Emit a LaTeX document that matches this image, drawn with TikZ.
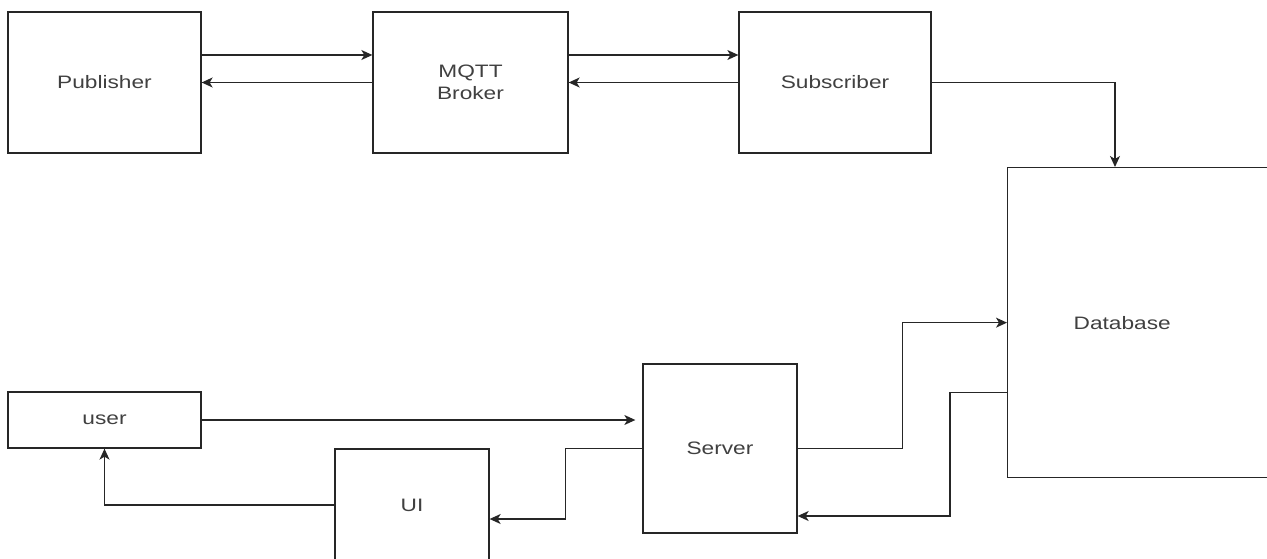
\documentclass[tikz,border=0pt]{standalone}
\usepackage{fontspec}
\setmainfont{Liberation Sans}[FakeStretch=1.26]
\usepackage{xcolor}
\usepackage{tikz}
\usetikzlibrary{arrows.meta}
\tikzset{
    every node/.style={font=\fontsize{18}{21.6}\selectfont, text=black!75},
    box/.style={draw=black!85, line width=1.3pt, rectangle, align=center, inner sep=0pt},
    arr/.style={draw=black!85, line width=1.3pt, -{Stealth[length=11pt, width=10pt, inset=3pt]}}
}
\begin{document}
\begin{tikzpicture}[x=1pt, y=-1pt]
            \useasboundingbox (0,0) rectangle (1267,559);
            \node[box, minimum width=193, minimum height=141] (pub) at (104.5,82.5) {Publisher};
            \node[box, minimum width=195, minimum height=141] (mqtt) at (470.5,82.5) {MQTT\\Broker};
            \node[box, minimum width=192, minimum height=141] (sub) at (835,82.5) {Subscriber};
            \node[box, minimum width=300, minimum height=310, anchor=north west, text width=168, align=left, inner xsep=66] (db) at (1007,167) {Database};
            \node[box, minimum width=193, minimum height=56] (user) at (104.5,420) {user};
            \node[box, minimum width=154, minimum height=169] (srv) at (720,448.5) {Server};
            \node[box, minimum width=154, minimum height=112] (ui) at (412,505) {UI};

            \draw[arr] ([yshift=27.5pt]pub.east) -- ([yshift=27.5pt]mqtt.west);
            \draw[arr] (mqtt.west) -- (pub.east);
            \draw[arr] ([yshift=27.5pt]mqtt.east) -- ([yshift=27.5pt]sub.west);
            \draw[arr] (sub.west) -- (mqtt.east);
            \draw[arr] (sub.east) -| ([xshift=108pt]db.north west);
            \draw[arr, shorten >=7pt] (user.east) -- (srv.west |- user.east);
            \draw[arr] (srv.west) -- ++(-77,0) |- ([yshift=-14pt]ui.east);
            \draw[arr] (ui.west) -| (user.south);
            \draw[arr] (srv.east) -- ++(105,0) |- (db.west);
            \draw[arr] ([yshift=-70pt]db.west) -- ++(-57,0) |- ([yshift=-67.5pt]srv.east);
        \end{tikzpicture}
\end{document}
